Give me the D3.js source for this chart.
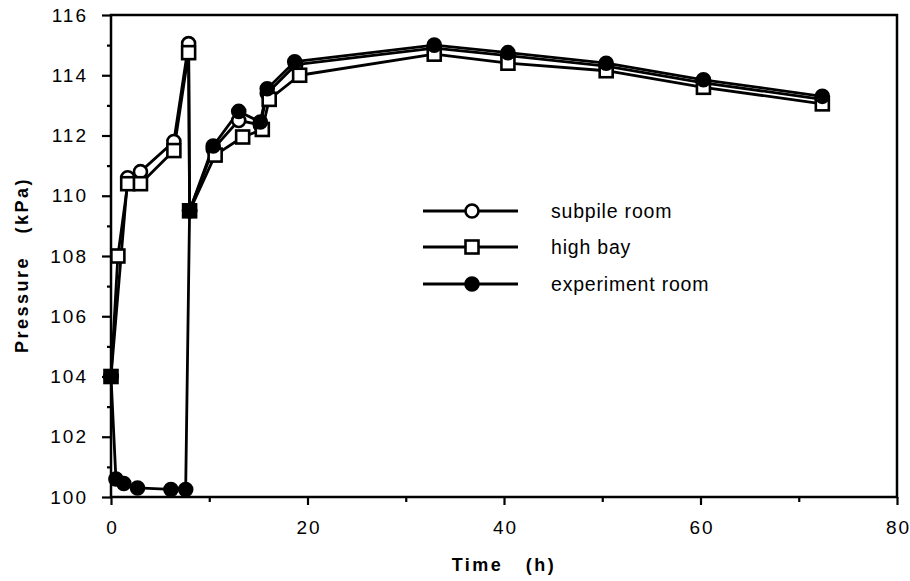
<!DOCTYPE html>
<html>
<head>
<meta charset="utf-8">
<script src="https://cdn.jsdelivr.net/npm/d3@7"></script>
<style>
	body { margin: 0; background: #fff; }
	text { font-family: "Liberation Sans", Arial, sans-serif; fill: #000; }
	.title { font-weight: bold; letter-spacing: 2.5px; }
</style>
</head>
<body>
<div id="chart"></div>
<script>

var WIDTH = 910;
var HEIGHT = 581;

// series data
var subpileTime = [0, 1.7, 3.0, 6.4, 7.9, 8.0, 10.4, 13.0, 15.2, 15.9, 18.8, 32.9, 40.4, 50.4, 60.3, 72.4];
var subpileKPa = [104, 110.6, 110.8, 111.8, 115.05, 109.5, 111.55, 112.5, 112.35, 113.4, 114.35, 114.9, 114.65, 114.3, 113.75, 113.2];

var highBayTime = [0, 0.7, 1.7, 3.0, 6.4, 7.9, 8.0, 10.6, 13.4, 15.4, 16.1, 19.2, 32.9, 40.4, 50.4, 60.3, 72.4];
var highBayKPa = [104, 108.0, 110.4, 110.4, 111.5, 114.75, 109.5, 111.35, 111.95, 112.2, 113.2, 114.0, 114.7, 114.4, 114.15, 113.6, 113.05];

var experimentTime = [0, 0.5, 1.3, 2.7, 6.1, 7.6, 8.0, 10.4, 13.0, 15.2, 15.9, 18.7, 32.9, 40.4, 50.4, 60.3, 72.4];
var experimentKPa = [104, 100.6, 100.45, 100.3, 100.25, 100.25, 109.5, 111.65, 112.8, 112.45, 113.55, 114.45, 115.0, 114.75, 114.4, 113.85, 113.3];

var seriesNames = ['subpile room', 'high bay', 'experiment room'];
var seriesSymbols = ['opencircle', 'opensquare', 'filledcircle'];

var xTicks = [0, 20, 40, 60, 80];
var xMinorTicks = [10, 30, 50, 70];
var yTicks = [100, 102, 104, 106, 108, 110, 112, 114, 116];
var yMinorTicks = [101, 103, 105, 107, 109, 111, 113, 115];

var margin = {left: 111, right: 13, top: 15, bottom: 84};

function zip(times, values) {
	return times.map(function(t, i) { return {t: t, p: values[i]}; });
}

function drawSymbol(g, kind, x, y) {
	if (kind == 'opensquare') {
		g.append('rect')
			.attr('x', x-6.5).attr('y', y-6.5)
			.attr('width', 13).attr('height', 13)
			.attr('fill', '#fff').attr('stroke', '#000').attr('stroke-width', 2.6);
	} else {
		g.append('circle')
			.attr('cx', x).attr('cy', y).attr('r', 6.5)
			.attr('fill', kind == 'filledcircle' ? '#000' : '#fff')
			.attr('stroke', '#000').attr('stroke-width', 2.6);
	}
}

function init() {
	var svg = d3.select('#chart').append('svg')
		.attr('width', WIDTH)
		.attr('height', HEIGHT);

	var x = d3.scaleLinear().domain([0, 80]).range([margin.left, WIDTH-margin.right]);
	var y = d3.scaleLinear().domain([100, 116]).range([HEIGHT-margin.bottom, margin.top]);

	// frame
	svg.append('rect')
		.attr('x', x(0)).attr('y', y(116))
		.attr('width', x(80)-x(0)).attr('height', y(100)-y(116))
		.attr('fill', 'none').attr('stroke', '#000').attr('stroke-width', 2.5);

	// axes
	var xAxis = svg.append('g')
		.attr('transform', 'translate(0,'+y(100)+')')
		.call(d3.axisBottom(x).tickValues(xTicks).tickSize(8).tickPadding(12).tickFormat(d3.format('d')));
	svg.append('g')
		.attr('transform', 'translate(0,'+y(100)+')')
		.call(d3.axisBottom(x).tickValues(xMinorTicks).tickSize(5).tickFormat(''));

	var yAxis = svg.append('g')
		.attr('transform', 'translate('+x(0)+',0)')
		.call(d3.axisLeft(y).tickValues(yTicks).tickSize(9).tickPadding(14).tickFormat(d3.format('d')));
	svg.append('g')
		.attr('transform', 'translate('+x(0)+',0)')
		.call(d3.axisLeft(y).tickValues(yMinorTicks).tickSize(4).tickFormat(''));

	svg.selectAll('.domain').attr('stroke', 'none');
	svg.selectAll('.tick line').attr('stroke', '#000').attr('stroke-width', 2.2);
	svg.selectAll('.tick text')
		.style('font-size', '19px')
		.style('letter-spacing', '2px')
		.style('font-family', '"Liberation Sans", Arial, sans-serif');
	xAxis.selectAll('.tick text').attr('dy', '0.9em').attr('dx', '1px');

	// axis titles
	svg.append('text')
		.attr('class', 'title')
		.attr('x', (x(0)+x(80))/2)
		.attr('y', 571)
		.attr('text-anchor', 'middle')
		.style('font-size', '18px')
		.attr('xml:space', 'preserve')
		.text('Time   (h)');

	svg.append('text')
		.attr('class', 'title')
		.attr('transform', 'translate(28,265) rotate(-90)')
		.attr('text-anchor', 'middle')
		.style('font-size', '18px')
		.attr('xml:space', 'preserve')
		.text('Pressure   (kPa)');

	var line = d3.line()
		.x(function(d) { return x(d.t); })
		.y(function(d) { return y(d.p); });

	var allSeries = [
		zip(subpileTime, subpileKPa),
		zip(highBayTime, highBayKPa),
		zip(experimentTime, experimentKPa)
	];

	// lines first, then symbols
	allSeries.forEach(function(data) {
		svg.append('path')
			.datum(data)
			.attr('d', line)
			.attr('fill', 'none')
			.attr('stroke', '#000')
			.attr('stroke-width', 2.8)
			.attr('stroke-linejoin', 'round');
	});

	allSeries.forEach(function(data, i) {
		var g = svg.append('g');
		data.forEach(function(d) {
			drawSymbol(g, seriesSymbols[i], x(d.t), y(d.p));
		});
	});

	// legend
	var legendY = [211, 247, 284];
	seriesNames.forEach(function(name, i) {
		var g = svg.append('g');
		g.append('line')
			.attr('x1', 423).attr('x2', 518)
			.attr('y1', legendY[i]).attr('y2', legendY[i])
			.attr('stroke', '#000').attr('stroke-width', 2.8);
		drawSymbol(g, seriesSymbols[i], 472, legendY[i]);
		g.append('text')
			.attr('x', 551)
			.attr('y', legendY[i])
			.attr('dy', '0.35em')
			.style('font-size', '19.5px')
			.style('letter-spacing', '0.8px')
			.text(name);
	});

	return svg;
}

init();
</script>
</body>
</html>
